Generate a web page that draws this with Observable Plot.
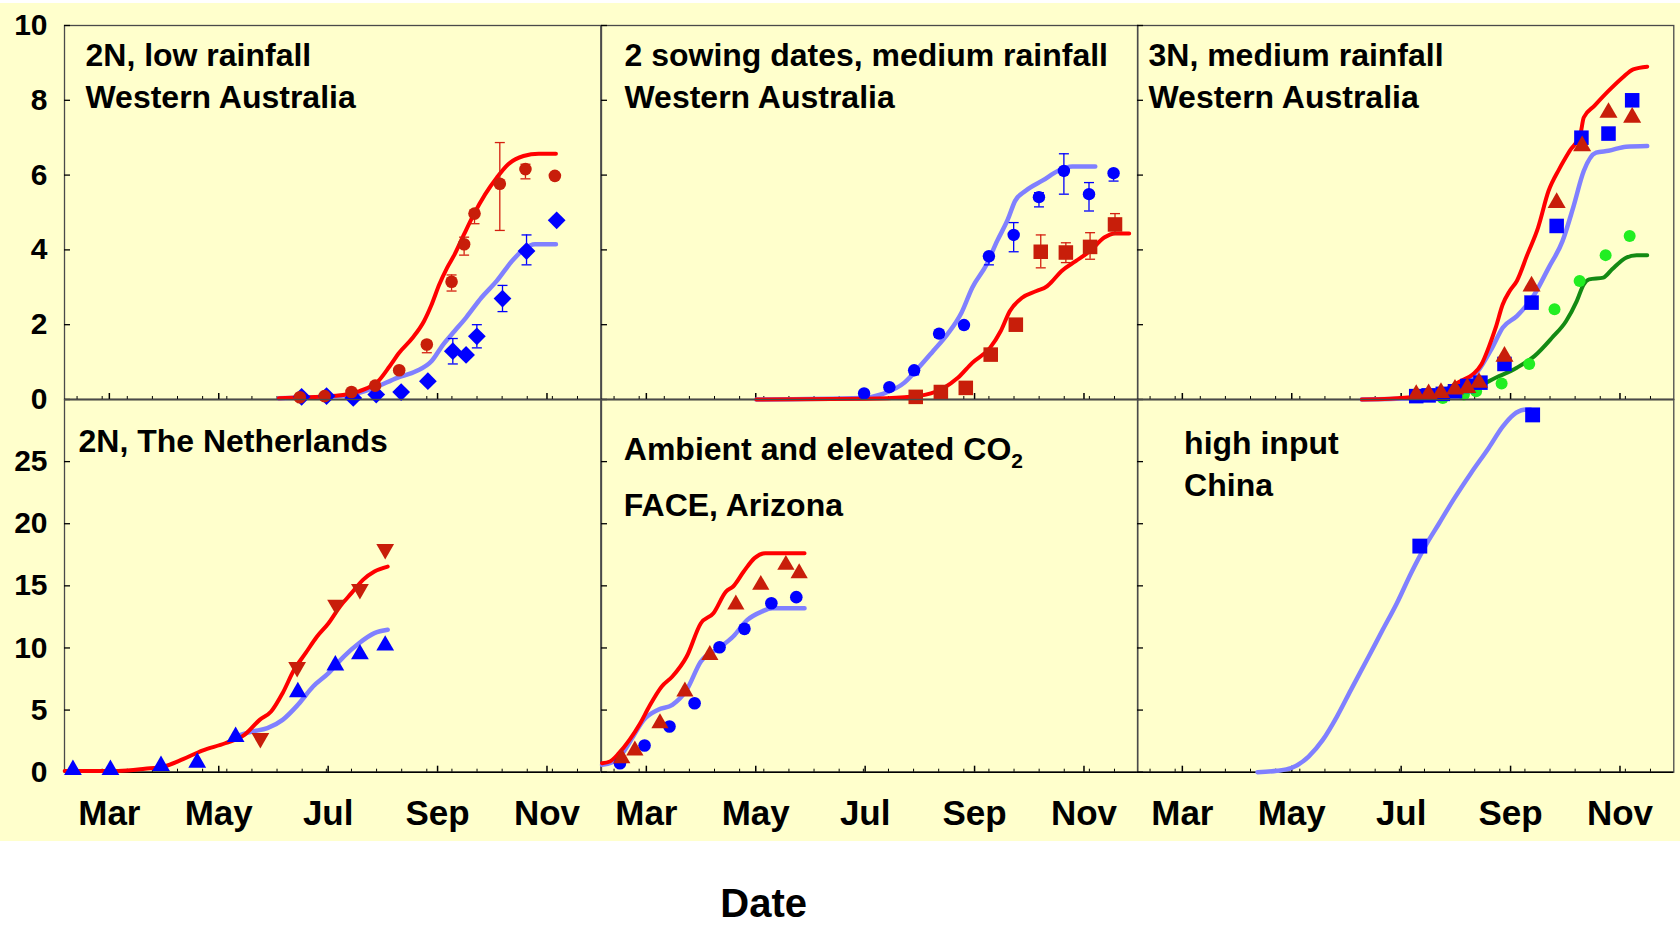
<!DOCTYPE html>
<html><head><meta charset="utf-8">
<script src="https://cdn.jsdelivr.net/npm/d3@7"></script>
<script src="https://cdn.jsdelivr.net/npm/@observablehq/plot@0.6"></script>
<style>
body{margin:0;background:#fff;}
#fig{position:relative;width:1680px;height:927px;overflow:hidden;font-family:"Liberation Sans",Arial,Helvetica,sans-serif;}
#bg{position:absolute;left:0;top:3px;width:1680px;height:838px;background:#FFFFCC;}
#date{position:absolute;left:763.7px;top:888px;transform:translateX(-50%);font-weight:bold;font-size:40px;line-height:30px;color:#000;}
</style></head><body>
<div id="fig"><div id="bg"></div><div id="date">Date</div></div>
<script>
// ---- axes ----
const monthTicks = [60, 121, 182, 243, 304];
const monthLabels = ["Mar", "May", "Jul", "Sep", "Nov"];
const minorTicks = [42, 56, 70, 84, 98, 112, 125.5, 139.5, 153.5, 167.5, 181, 195, 209, 223, 237, 251, 265, 279, 293, 307, 321];
const yTicksTop = [0, 2, 4, 6, 8, 10];
const yTicksBottom = [0, 5, 10, 15, 20, 25];

// ---- panel 1: 2N, low rainfall, Western Australia ----
const wa2NRedSim = [[154.5,0.03],[169.4,0.06],[186.4,0.1],[199.2,0.22],[209.9,0.49],[216.3,0.89],[221.6,1.25],[229.1,1.65],[235.5,2.1],[239.7,2.54],[244,3.08],[248.3,3.52],[252.5,3.88],[257.8,4.42],[263.2,4.95],[269.6,5.49],[276,5.93],[282.4,6.29],[290.9,6.51],[299.4,6.57],[309,6.57]];
const wa2NBlueSim = [[154.5,0.03],[169.4,0.05],[184,0.08],[195,0.13],[207.7,0.31],[220.5,0.58],[231.2,0.76],[239.7,1.03],[246.1,1.47],[252.5,1.83],[258.9,2.19],[267.4,2.72],[276,3.17],[284.5,3.7],[290.9,4.01],[297.3,4.15],[309,4.15]];
const wa2NRedObs = [[166.2,0.06],[180,0.09],[195,0.2],[208.2,0.37],[221.6,0.78],[237,1.47],[250.8,3.15],[257.8,4.15],[263.6,4.97],[277.7,5.77],[292,6.16],[308.4,5.98]];
const wa2NRedErr = [[237,1.25,1.56],[250.8,2.9,3.33],[257.8,3.86,4.34],[263.6,4.7,5.06],[277.7,4.52,6.87],[292,5.9,6.29]];
const wa2NBlueObs = [[167.2,0.07],[181.1,0.09],[196,0.04],[208.8,0.13],[222.7,0.2],[237.6,0.49],[251.5,1.29],[258.9,1.19],[264.9,1.69],[279.2,2.7],[292.6,3.97],[309.4,4.79]];
const wa2NBlueErr = [[251.5,0.95,1.63],[264.9,1.38,2.0],[279.2,2.35,3.05],[292.6,3.6,4.4]];

// ---- panel 2: 2 sowing dates, medium rainfall ----
const sowRedSim = [[121.3,0],[182,0.02],[203.9,0.06],[215.8,0.13],[225.8,0.31],[233.7,0.58],[241.7,0.98],[251.6,1.38],[257.6,1.83],[262.6,2.36],[269.5,2.72],[277.5,2.9],[283.5,3.03],[285.5,3.12],[291.4,3.43],[299.4,3.7],[307.4,3.97],[315.3,4.33],[321.3,4.44],[329.2,4.44]];
const sowBlueSim = [[121.3,0],[180,0.04],[191.9,0.15],[203.9,0.45],[211.8,0.85],[219.8,1.29],[227.8,1.74],[235.7,2.32],[241.7,2.99],[249.7,3.61],[255.6,4.24],[261.6,4.82],[265.6,5.31],[271.5,5.58],[281.5,5.87],[289.4,6.11],[297.4,6.23],[310.3,6.23]];
const sowBlueObs = [[181.4,0.16],[195.5,0.33],[209.3,0.78],[223.2,1.76],[237.1,1.99],[251,3.83],[264.8,4.4],[278.9,5.41],[292.8,6.11],[306.8,5.49],[320.5,6.05]];
const sowBlueErr = [[209.3,0.66,0.8],[223.2,1.66,1.78],[237.1,1.9,2.02],[251,3.6,3.9],[264.8,3.95,4.73],[278.9,5.15,5.53],[292.8,5.49,6.57],[306.8,5.04,5.8],[320.5,5.84,6.11]];
const sowRedObs = [[210.2,0.07],[224.2,0.2],[238.1,0.31],[252,1.2],[266,2],[279.9,3.95],[293.9,3.93],[307.4,4.08],[321.3,4.68]];
const sowRedErr = [[279.9,3.52,4.4],[293.9,3.66,4.19],[307.4,3.75,4.46],[321.3,4.42,4.97]];

// ---- panel 3: 3N, medium rainfall ----
const n3RedSim = [[160,0],[175.7,0.02],[187.5,0.06],[199.3,0.13],[207.1,0.27],[215,0.49],[221.9,0.67],[226.8,0.94],[230.7,1.38],[234.7,1.92],[238.6,2.54],[242.5,2.9],[246.5,3.17],[252.4,3.88],[258.3,4.59],[264.2,5.58],[270.1,6.16],[276,6.65],[281.9,7.09],[283.8,7.54],[289.7,7.85],[297.6,8.25],[305.5,8.61],[311.4,8.83],[319.2,8.9]];
const n3BlueSim = [[160,0],[187.5,0.03],[203.2,0.18],[215,0.4],[224.8,0.76],[232.7,1.38],[238.6,1.92],[246.5,2.23],[256.3,2.81],[264.2,3.52],[272,4.24],[277.9,5.13],[283.8,6.11],[290.7,6.6],[297.6,6.65],[307.4,6.76],[319.2,6.78]];
const n3GreenSim = [[187.5,0.01],[199.3,0.04],[211.1,0.18],[222.9,0.31],[234.7,0.58],[246.5,0.85],[256.3,1.16],[266.1,1.65],[274,2.1],[279.9,2.63],[283.8,3.08],[286.8,3.21],[294.7,3.26],[299.6,3.48],[307.4,3.79],[313.3,3.86],[319.2,3.86]];
const n3GreenObs = [[205.2,0.04],[217,0.13],[223.8,0.22],[238,0.43],[253.4,0.95],[267.5,2.41],[281.5,3.17],[296,3.86],[309.4,4.37]];
const n3BlueObs = [[190.4,0.09],[197.3,0.11],[205.2,0.15],[212,0.22],[218.9,0.36],[226.2,0.45],[239.6,0.95],[254.7,2.59],[268.7,4.64],[282.5,7],[297.6,7.11],[310.8,8]];
const n3RedObs = [[190.4,0.13],[197.3,0.15],[204.2,0.18],[212,0.27],[218.9,0.31],[225.4,0.45],[239.6,1.15],[254.7,3.03],[268.7,5.26],[282.9,6.78],[297.6,7.67],[310.8,7.54]];

// ---- panel 4: 2N, The Netherlands ----
const nlRedSim = [[35.1,0.1],[64.9,0.1],[79.8,0.27],[90.5,0.46],[101.1,1.05],[111.8,1.74],[124.6,2.33],[135.3,3],[143.8,4.21],[150.2,4.88],[156.6,6.36],[163,8.24],[169.4,9.58],[175.8,10.92],[182.2,11.99],[188.6,13.34],[195,14.41],[201.4,15.48],[207.8,16.15],[215.2,16.55]];
const nlBlueSim = [[131,2.9],[135.3,3.1],[139.5,3.27],[148.1,3.54],[156.6,4.21],[165.1,5.42],[173.6,6.9],[182.2,7.97],[190.7,9.31],[199.2,10.38],[207.8,11.19],[215.2,11.46]];
const nlBlueObs = [[39.7,0.19],[60.6,0.19],[88.8,0.51],[109,0.78],[130.4,2.85],[165.1,6.45],[186,8.6],[199.7,9.5],[213.8,10.2]];
const nlRedObs = [[144.2,2.74],[164.7,8.45],[186.4,13.47],[199.7,14.73],[213.8,17.95]];

// ---- panel 5: FACE, Arizona ----
const faceRedSim = [[35.3,0.72],[39.7,0.86],[44.7,1.53],[50.6,2.6],[56.6,3.94],[61.6,5.29],[68.6,6.9],[74.5,7.7],[82.5,9.31],[90.4,11.99],[97.4,12.8],[104.4,14.54],[108.4,14.95],[114.3,16.15],[120.3,17.23],[126.3,17.63],[148.2,17.63]];
const faceBlueSim = [[35.3,0.59],[40.7,0.78],[46.7,1.53],[52.6,2.87],[58.6,4.21],[66.6,5.02],[74.5,5.42],[82.5,6.63],[90.4,8.91],[100.4,9.98],[108.4,10.92],[116.3,12.26],[124.3,12.93],[130.2,13.2],[148.2,13.2]];
const faceBlueObs = [[45.3,0.72],[59,2.15],[72.9,3.68],[86.9,5.55],[100.8,10.06],[114.7,11.54],[129.7,13.6],[143.6,14.09]];
const faceRedObs = [[46.3,1.13],[53.6,1.74],[67.6,3.94],[81.5,6.49],[95.4,9.44],[109.9,13.5],[123.8,15.08],[137.8,16.69],[145.2,16.02]];

// ---- panel 6: high input, China ----
const chinaBlueSim = [[101.9,0],[112.7,0.11],[120.6,0.32],[130.4,1.26],[138.3,2.6],[146.2,4.48],[154,6.63],[163.9,9.31],[171.7,11.46],[179.6,13.6],[187.5,16.02],[195.3,18.16],[203.2,20.04],[211.1,21.92],[220.9,24.07],[230.7,26.08],[238.6,27.82],[244.5,28.76],[250.4,29.17],[254,29.2]];
const chinaBlueObs = [[192.4,18.2],[255.3,28.76]];

// ---- styling ----
const FONT = '"Liberation Sans", Arial, Helvetica, sans-serif';
const C = {red: "#ff0000", lblue: "#8080ff", dred: "#c81e0a", blue: "#0000ff", dgreen: "#138a13", green: "#22ee22", errRed: "#d42010"};
const capSym = {draw(ctx) { ctx.moveTo(-5, 0); ctx.lineTo(5, 0); }};
const downTri = {draw(ctx, size) {
  const y = -Math.sqrt(size / (Math.sqrt(3) * 3));
  ctx.moveTo(0, -y * 2); ctx.lineTo(-Math.sqrt(3) * y, y); ctx.lineTo(Math.sqrt(3) * y, y); ctx.closePath();
}};

const colLeft = [64.3, 600.7, 1136.5];
const rowTop = [25, 399];
const PW = 536.3;
const PH = [374, 372.7];
const ML = 70;

const X = d => d[0], Y = d => d[1];
function line(data, stroke, w) {
  return Plot.line(data, {x: X, y: Y, stroke, strokeWidth: w, curve: "monotone-x", strokeLinejoin: "round"});
}
function dots(data, symbol, fill, r) {
  return Plot.dot(data, {x: X, y: Y, symbol, fill, r, stroke: "none"});
}
function errs(data, stroke) {
  return [
    Plot.ruleX(data, {x: X, y1: d => d[1], y2: d => d[2], stroke, strokeWidth: 1.3}),
    Plot.dot(data, {x: X, y: d => d[1], symbol: capSym, stroke, strokeWidth: 1.3, fill: "none"}),
    Plot.dot(data, {x: X, y: d => d[2], symbol: capSym, stroke, strokeWidth: 1.3, fill: "none"})
  ];
}
function title(lines, dx, dy, lh) {
  return Plot.text([lines.join("\n")], {text: d => d, frameAnchor: "top-left", textAnchor: "start", lineAnchor: "top",
    dx, dy, fontSize: 32, lineHeight: lh, fill: "#000", fontWeight: "bold"});
}

function panel(col, row, marks) {
  const top = row === 0;
  const mB = top ? 0 : 70;
  const showY = col === 0;
  const svg = Plot.plot({
    width: ML + PW, height: PH[row] + mB,
    marginLeft: ML, marginRight: 0, marginTop: 0, marginBottom: mB,
    x: {domain: [35, 334], axis: null},
    y: {domain: top ? [0, 10] : [0, 30], axis: null},
    style: {fontFamily: FONT},
    marks: [
      Plot.frame({stroke: "#4a4a4a", strokeWidth: 1.3}),
      Plot.ruleY([0], {stroke: "#000", strokeWidth: 1.5}),
      Plot.axisX({ticks: minorTicks, tickSize: -3, tickFormat: () => "", strokeWidth: 1}),
      Plot.axisX({ticks: monthTicks, tickSize: -6, tickPadding: 34, strokeWidth: 1.5,
        tickFormat: top ? () => "" : d => monthLabels[monthTicks.indexOf(d)], fontSize: 35, fontWeight: "bold", fill: "#000"}),
      Plot.axisY({ticks: top ? yTicksTop : yTicksBottom, tickSize: -6, tickPadding: 23, strokeWidth: 1.3,
        tickFormat: showY ? d => String(d) : () => "", fontSize: 30, fontWeight: "bold", fill: "#000"}),
      ...marks
    ]
  });
  svg.style.position = "absolute";
  svg.style.left = (colLeft[col] - ML) + "px";
  svg.style.top = rowTop[row] + "px";
  svg.style.background = "transparent";
  svg.style.overflow = "visible";
  svg.style.maxWidth = "none";
  svg.style.fontWeight = "bold";
  svg.style.color = "#000";
  document.getElementById("fig").appendChild(svg);
  return svg;
}

panel(0, 0, [
  line(wa2NBlueSim, C.lblue, 4.5),
  line(wa2NRedSim, C.red, 4),
  ...errs(wa2NRedErr, C.errRed),
  ...errs(wa2NBlueErr, C.blue),
  dots(wa2NBlueObs, "diamond2", C.blue, 8),
  dots(wa2NRedObs, "circle", C.dred, 6.3),
  title(["2N, low rainfall", "Western Australia"], 21, 10.8, 42 / 32)
]);

panel(1, 0, [
  line(sowBlueSim, C.lblue, 4.5),
  line(sowRedSim, C.red, 4),
  ...errs(sowBlueErr, C.blue),
  ...errs(sowRedErr, C.errRed),
  dots(sowBlueObs, "circle", C.blue, 6.2),
  dots(sowRedObs, "square", C.dred, 8.2),
  title(["2 sowing dates, medium rainfall", "Western Australia"], 23, 10.8, 42 / 32)
]);

panel(2, 0, [
  line(n3BlueSim, C.lblue, 4.5),
  line(n3RedSim, C.red, 4),
  line(n3GreenSim, C.dgreen, 4),
  dots(n3GreenObs, "circle", C.green, 6),
  dots(n3BlueObs, "square", C.blue, 8.2),
  dots(n3RedObs, "triangle", C.dred, 6.7),
  title(["3N, medium rainfall", "Western Australia"], 11, 10.8, 42 / 32)
]);

panel(0, 1, [
  line(nlBlueSim, C.lblue, 4.5),
  line(nlRedSim, C.red, 4),
  dots(nlBlueObs, "triangle", C.blue, 6.6),
  dots(nlRedObs, downTri, C.dred, 6.6),
  title(["2N, The Netherlands"], 14, 25.6, 1.2)
]);

const p5 = panel(1, 1, [
  line(faceBlueSim, C.lblue, 4.5),
  line(faceRedSim, C.red, 4),
  dots(faceBlueObs, "circle", C.blue, 6.3),
  dots(faceRedObs, "triangle", C.dred, 6.4),
  title(["Ambient and elevated CO2"], 22.3, 33.6, 1.2),
  title(["FACE, Arizona"], 22.3, 88.8, 1.2)
]);

panel(2, 1, [
  line(chinaBlueSim, C.lblue, 4.5),
  dots(chinaBlueObs, "square", C.blue, 8.4),
  title(["high input", "China"], 46.6, 24.5, 42 / 32)
]);

// subscript in CO2
for (const t of p5.querySelectorAll("text")) {
  if (t.textContent === "Ambient and elevated CO2") {
    t.textContent = "Ambient and elevated CO";
    const s = document.createElementNS("http://www.w3.org/2000/svg", "tspan");
    s.setAttribute("dy", "8");
    s.setAttribute("font-size", "21");
    s.textContent = "2";
    t.appendChild(s);
  }
}
</script>
</body></html>
